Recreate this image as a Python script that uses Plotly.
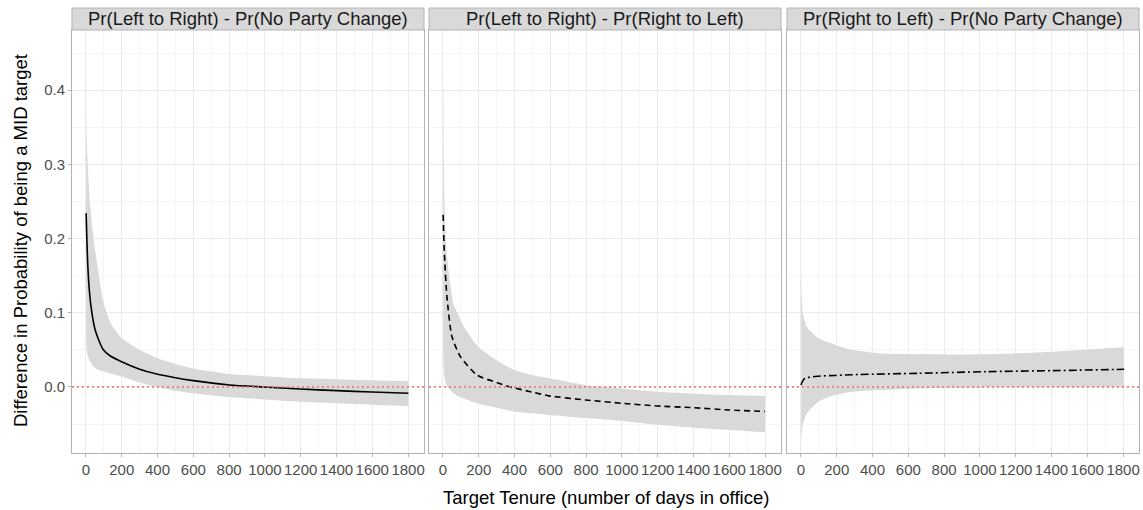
import plotly.graph_objects as go

# ---------------- data ----------------
panel_titles = [
    "Pr(Left to Right) - Pr(No Party Change)",
    "Pr(Left to Right) - Pr(Right to Left)",
    "Pr(Right to Left) - Pr(No Party Change)",
]

# Panel 1
p1_days_line = [1, 5, 10, 20, 33, 50, 70, 97, 134, 199, 300, 395, 500, 600, 805, 991, 1196, 1401, 1600, 1802]
p1_line = [0.234, 0.2, 0.165, 0.127, 0.1, 0.078, 0.064, 0.05, 0.042, 0.034, 0.024, 0.0175, 0.0125,
           0.0085, 0.0027, 0.0, -0.0027, -0.005, -0.0068, -0.0085]
p1_days_band = [1, 4, 10, 22, 40, 60, 97, 134, 199, 300, 395, 500, 600, 805, 1000, 1196, 1400, 1600, 1802]
p1_upper = [0.43, 0.34, 0.30, 0.25, 0.205, 0.17, 0.115, 0.088, 0.066, 0.05, 0.039, 0.031, 0.025, 0.0175,
            0.0145, 0.0117, 0.0105, 0.009, 0.008]
p1_lower = [0.07, 0.05, 0.042, 0.035, 0.028, 0.024, 0.021, 0.018, 0.014, 0.006, 0.0, -0.005, -0.0085,
            -0.014, -0.017, -0.02, -0.022, -0.024, -0.0256]

# Panel 2
p2_days_line = [1, 7, 22, 50, 97, 190, 300, 376, 500, 592, 797, 1000, 1198, 1400, 1600, 1800]
p2_line = [0.232, 0.184, 0.122, 0.068, 0.041, 0.016, 0.006, 0.0, -0.007, -0.012, -0.0175, -0.022,
           -0.0256, -0.028, -0.031, -0.033]
p2_days_band = [1, 5, 12, 26, 60, 80, 120, 190, 300, 397, 500, 592, 797, 1000, 1198, 1400, 1600, 1800]
p2_upper = [0.43, 0.30, 0.22, 0.167, 0.11, 0.10, 0.08, 0.056, 0.036, 0.023, 0.016, 0.0117, 0.0027,
            -0.002, -0.0063, -0.009, -0.011, -0.012]
p2_lower = [0.06, 0.02, 0.008, 0.0, -0.0085, -0.012, -0.016, -0.022, -0.028, -0.033, -0.0355, -0.0377,
            -0.042, -0.046, -0.051, -0.055, -0.058, -0.061]

# Panel 3
p3_days_line = [1, 5, 22, 97, 190, 284, 657, 1031, 1404, 1806]
p3_line = [0.0027, 0.006, 0.0117, 0.0145, 0.0155, 0.0165, 0.0184, 0.0206, 0.022, 0.0238]
p3_days_band = [1, 5, 10, 32, 97, 190, 284, 450, 657, 1031, 1404, 1806]
p3_upper = [0.16, 0.12, 0.10, 0.081, 0.0655, 0.057, 0.05, 0.045, 0.044, 0.044, 0.0476, 0.0535]
p3_lower = [-0.08, -0.062, -0.052, -0.036, -0.02, -0.011, -0.0065, -0.004, -0.002, -0.001, -0.0008, -0.0005]

x_ticks = [0, 200, 400, 600, 800, 1000, 1200, 1400, 1600, 1800]
y_ticks = [0.0, 0.1, 0.2, 0.3, 0.4]
y_tick_labels = ["0.0", "0.1", "0.2", "0.3", "0.4"]

panels = [
    (p1_days_line, p1_line, p1_days_band, p1_upper, p1_lower, "solid"),
    (p2_days_line, p2_line, p2_days_band, p2_upper, p2_lower, "6px,4px"),
    (p3_days_line, p3_line, p3_days_band, p3_upper, p3_lower, "8px,3px,2px,3px"),
]

# ---------------- layout geometry ----------------
W, H = 1143, 510
panel_px = [(72, 424), (429, 781), (787, 1139)]
plot_top, plot_bot = 30, 453
strip_top = 8
ydom = [1 - plot_bot / H, 1 - plot_top / H]

fig = go.Figure()
FONT = "Liberation Sans, Arial, sans-serif"

for i, (dl, lv, db, up, lo, dash) in enumerate(panels):
    ax = "" if i == 0 else str(i + 1)
    xa, ya = "x" + ax, "y" + ax
    fig.add_trace(go.Scatter(x=db, y=lo, mode="lines", line=dict(width=0, shape="spline", smoothing=0.6),
                             xaxis=xa, yaxis=ya, showlegend=False, hoverinfo="skip"))
    fig.add_trace(go.Scatter(x=db, y=up, mode="lines", line=dict(width=0, shape="spline", smoothing=0.6),
                             fill="tonexty", fillcolor="#D9D9D9",
                             xaxis=xa, yaxis=ya, showlegend=False, hoverinfo="skip"))
    fig.add_trace(go.Scatter(x=dl, y=lv, mode="lines",
                             line=dict(color="black", width=1.6, dash=dash, shape="spline", smoothing=0.6),
                             xaxis=xa, yaxis=ya, showlegend=False))

layout = dict(
    width=W, height=H,
    margin=dict(l=0, r=0, t=0, b=0),
    paper_bgcolor="white", plot_bgcolor="white",
    font=dict(family=FONT, color="#4D4D4D", size=15),
    shapes=[], annotations=[],
)

for i, (x0, x1) in enumerate(panel_px):
    ax = "" if i == 0 else str(i + 1)
    layout["xaxis" + ax] = dict(
        domain=[x0 / W, x1 / W], range=[-78, 1889], anchor="y" + ax,
        tickvals=x_ticks, ticks="outside", ticklen=3, tickcolor="#B3B3B3",
        tickfont=dict(size=15, color="#4D4D4D"),
        showgrid=True, gridcolor="#EBEBEB", gridwidth=1,
        minor=dict(dtick=100, tick0=0, showgrid=True, gridcolor="#F5F5F5", gridwidth=1),
        showline=True, linecolor="#B3B3B3", linewidth=1, mirror=True, zeroline=False,
    )
    layout["yaxis" + ax] = dict(
        domain=ydom, range=[-0.089, 0.481], anchor="x" + ax,
        tickvals=y_ticks, ticktext=y_tick_labels if i == 0 else None,
        showticklabels=(i == 0), ticks="outside" if i == 0 else "", ticklen=3, tickcolor="#B3B3B3",
        tickfont=dict(size=15, color="#4D4D4D"),
        showgrid=True, gridcolor="#EBEBEB", gridwidth=1,
        minor=dict(dtick=0.05, tick0=0.05, showgrid=True, gridcolor="#F5F5F5", gridwidth=1),
        showline=True, linecolor="#B3B3B3", linewidth=1, mirror=True, zeroline=False,
    )
    # zero reference line
    layout["shapes"].append(dict(type="line", xref="x" + ax + " domain", yref="y" + ax,
                                 x0=0, x1=1, y0=0, y1=0,
                                 line=dict(color="#EE6F67", width=1.5, dash="2px,3px")))
    # strip
    layout["shapes"].append(dict(type="rect", xref="paper", yref="paper",
                                 x0=x0 / W, x1=x1 / W, y0=1 - plot_top / H, y1=1 - strip_top / H,
                                 fillcolor="#D9D9D9", line=dict(color="#B3B3B3", width=1)))
    layout["annotations"].append(dict(text=panel_titles[i], xref="paper", yref="paper",
                                      x=(x0 + x1) / 2 / W, y=1 - (plot_top + strip_top) / 2 / H,
                                      showarrow=False, xanchor="center", yanchor="middle",
                                      font=dict(size=18.5, color="#1A1A1A")))

layout["annotations"].append(dict(text="Target Tenure (number of days in office)", xref="paper", yref="paper",
                                  x=(72 + 1139) / 2 / W, y=1 - 497 / H, showarrow=False,
                                  xanchor="center", yanchor="middle", font=dict(size=18.5, color="black")))
layout["annotations"].append(dict(text="Difference in Probability of being a MID target", xref="paper", yref="paper",
                                  x=20 / W, y=1 - 241 / H, showarrow=False, textangle=-90,
                                  xanchor="center", yanchor="middle", font=dict(size=18.5, color="black")))

fig.update_layout(**layout)
fig.write_html("out.html")
